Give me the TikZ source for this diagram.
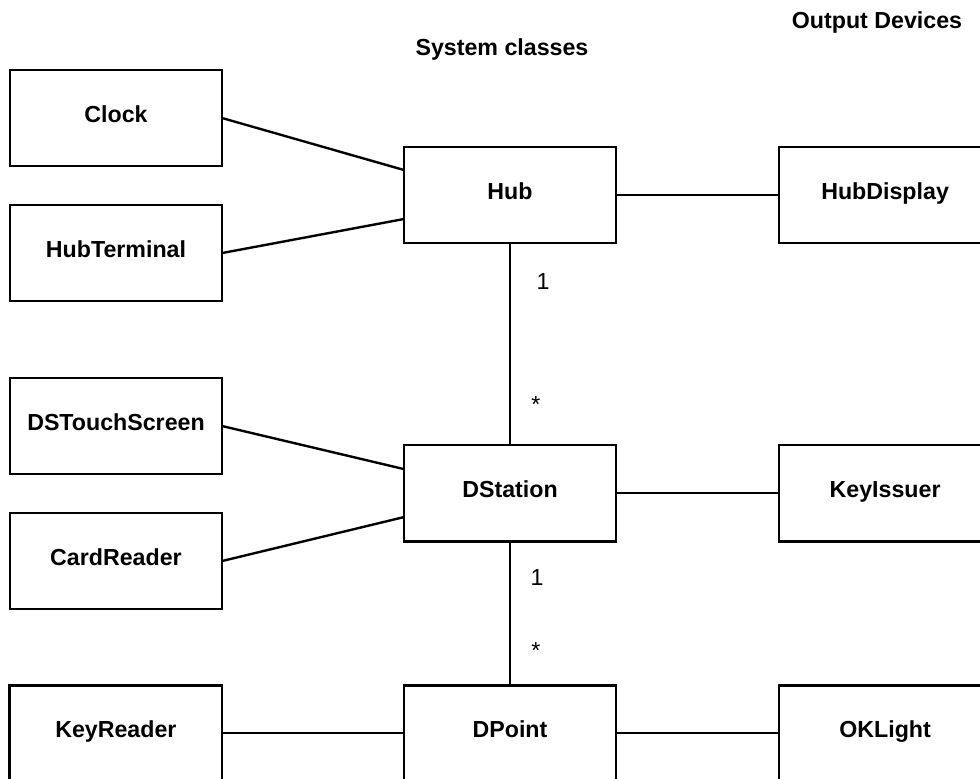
\documentclass[tikz,border=0pt]{standalone}
\usepackage{fontspec}
\setmainfont{Liberation Sans}
\usetikzlibrary{positioning, calc}

\begin{document}
\begin{tikzpicture}[
    x=0.025cm, y=-0.025cm,
    node distance=0.975cm and 4.55cm,
    classbox/.style={rectangle, draw=black, line width=2pt, minimum width=5.3cm, minimum height=2.4cm, outer sep=0pt, font=\fontsize{16.5}{19}\selectfont\bfseries, text height=11.8pt, text depth=5.9pt},
    heading/.style={font=\fontsize{16.5}{19}\selectfont\bfseries, anchor=base},
    mult/.style={font=\fontsize{16.5}{19}\selectfont, inner sep=0pt},
    link/.style={line width=1.7pt}
]
    \useasboundingbox (0,0) rectangle (980,778);

    % Headings
    \node[heading] (sys_title) at (502,55) {System classes};
    \node[heading] (out_title) at (877,28) {Output Devices};

    % Middle Column: System classes
    \node[classbox] (hub) at (510,195) {Hub};
    \node[classbox, below=5.05cm of hub] (dstation) {DStation};
    \node[classbox, below=3.6cm of dstation] (dpoint) {DPoint};

    % Left Column: Input devices
    \node[classbox] (clock) at (116,118) {Clock};
    \node[classbox, below=of clock] (hub_terminal) {HubTerminal};
    \node[classbox] (touch_screen) at (116,426) {DSTouchScreen};
    \node[classbox, below=of touch_screen] (card_reader) {CardReader};
    \node[classbox, left=of dpoint] (key_reader) {KeyReader};

    % Right Column: Output devices (cut by the page edge)
    \node[classbox, right=4.075cm of hub] (hub_display) {HubDisplay};
    \node[classbox, right=4.075cm of dstation] (key_issuer) {KeyIssuer};
    \node[classbox, right=4.075cm of dpoint] (ok_light) {OKLight};

    % Multiplicities
    \node[mult] (hub_one) at (543,282) {1};
    \node[mult, anchor=north] (hub_many) at (536,396) {*};
    \node[mult] (ds_one) at (537,578) {1};
    \node[mult, anchor=north] (ds_many) at (536,642) {*};

    % Connections
    \draw[link] (clock.east) -- ($(hub.west)+(0,-25)$);
    \draw[link] (hub_terminal.east) -- ($(hub.west)+(0,24)$);
    \draw[link] (hub) -- (hub_display);
    \draw[link] (hub) -- (dstation);

    \draw[link] (touch_screen.east) -- ($(dstation.west)+(0,-24)$);
    \draw[link] (card_reader.east) -- ($(dstation.west)+(0,24)$);
    \draw[link] (dstation) -- (key_issuer);
    \draw[link] (dstation) -- (dpoint);

    \draw[link] (key_reader) -- (dpoint);
    \draw[link] (dpoint) -- (ok_light);

\end{tikzpicture}
\end{document}
